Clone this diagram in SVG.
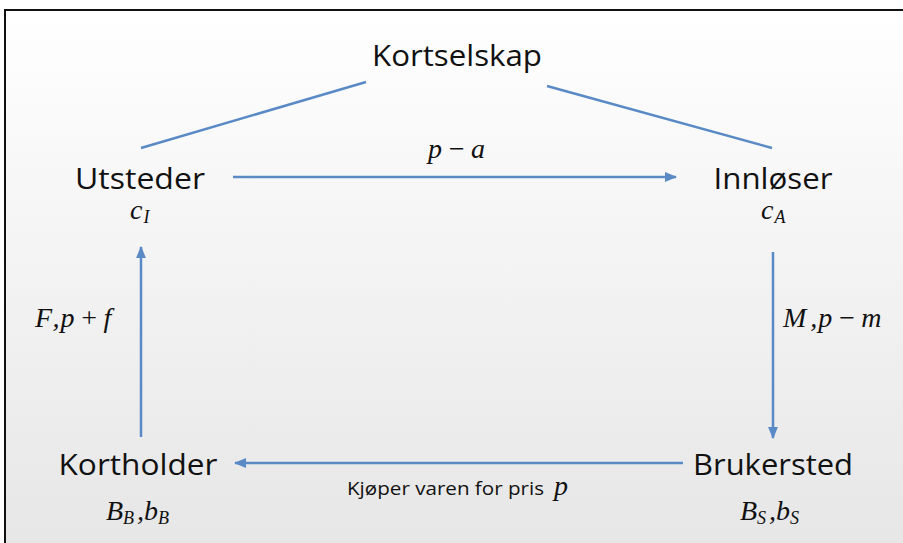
<svg xmlns="http://www.w3.org/2000/svg" width="903" height="543" viewBox="0 0 903 543">
<defs>
<linearGradient id="bg" x1="0" y1="0" x2="0" y2="1">
<stop offset="0" stop-color="#ffffff"/>
<stop offset="1" stop-color="#e6e6e6"/>
</linearGradient>
<marker id="ah" viewBox="0 0 10 10" refX="9" refY="5" markerWidth="5" markerHeight="5" orient="auto" markerUnits="strokeWidth">
<path d="M0,1 L10,5 L0,9 z" fill="#5a8ac6"/>
</marker>
<style>
.lbl{font-family:"Open Sans","Liberation Sans",sans-serif;font-size:29px;fill:#111;}
.mx{font-family:"Times New Roman","Liberation Serif",serif;font-style:italic;font-size:28px;fill:#111;}
.sub{font-size:18px;}
.edge{stroke:#5a8ac6;stroke-width:2.5;fill:none;}
.small{font-family:"Open Sans","Liberation Sans",sans-serif;font-size:19px;fill:#111;}
</style>
</defs>
<rect x="0" y="0" width="903" height="543" fill="#ffffff"/>
<rect x="5" y="10" width="903" height="540" fill="url(#bg)" stroke="#111" stroke-width="2"/>
<g id="connectors">
<line class="edge" x1="141" y1="148" x2="366" y2="82"/>
<line class="edge" x1="547" y1="86" x2="772" y2="148"/>
<line class="edge" x1="233" y1="177" x2="676" y2="177" marker-end="url(#ah)"/>
<line class="edge" x1="141" y1="437" x2="141" y2="247" marker-end="url(#ah)"/>
<line class="edge" x1="773" y1="252" x2="773" y2="438" marker-end="url(#ah)"/>
<line class="edge" x1="683" y1="463" x2="235" y2="463" marker-end="url(#ah)"/>
<text class="mx" x="428" y="158">p<tspan dx="5">−</tspan><tspan dx="5">a</tspan></text>
<text class="mx" x="35" y="327">F<tspan dx="4">,</tspan><tspan dx="1">p</tspan><tspan dx="5">+</tspan><tspan dx="5">f</tspan></text>
<text class="mx" x="783" y="327">M<tspan dx="4">,</tspan><tspan dx="1">p</tspan><tspan dx="5">−</tspan><tspan dx="5">m</tspan></text>
<text class="small" x="347" y="495" textLength="197" lengthAdjust="spacingAndGlyphs">Kjøper varen for pris</text>
<text class="mx" x="554" y="495">p</text>
</g>
<g id="kortselskap">
<text class="lbl" x="457" y="66" text-anchor="middle" textLength="170" lengthAdjust="spacingAndGlyphs">Kortselskap</text>
</g>
<g id="utsteder">
<text class="lbl" x="140" y="189" text-anchor="middle" textLength="130" lengthAdjust="spacingAndGlyphs">Utsteder</text>
<text class="mx" x="130" y="219">c<tspan class="sub" dy="4" dx="1">I</tspan></text>
</g>
<g id="innloser">
<text class="lbl" x="773" y="189" text-anchor="middle" textLength="119" lengthAdjust="spacingAndGlyphs">Innløser</text>
<text class="mx" x="761" y="219">c<tspan class="sub" dy="4" dx="1">A</tspan></text>
</g>
<g id="kortholder">
<text class="lbl" x="138" y="475" text-anchor="middle" textLength="159" lengthAdjust="spacingAndGlyphs">Kortholder</text>
<text class="mx" x="106" y="520">B<tspan class="sub" dy="4">B</tspan><tspan dy="-4" dx="3">,</tspan>b<tspan class="sub" dy="4">B</tspan></text>
</g>
<g id="brukersted">
<text class="lbl" x="773" y="475" text-anchor="middle" textLength="160" lengthAdjust="spacingAndGlyphs">Brukersted</text>
<text class="mx" x="740" y="520">B<tspan class="sub" dy="4">S</tspan><tspan dy="-4" dx="3">,</tspan>b<tspan class="sub" dy="4">S</tspan></text>
</g>
</svg>
